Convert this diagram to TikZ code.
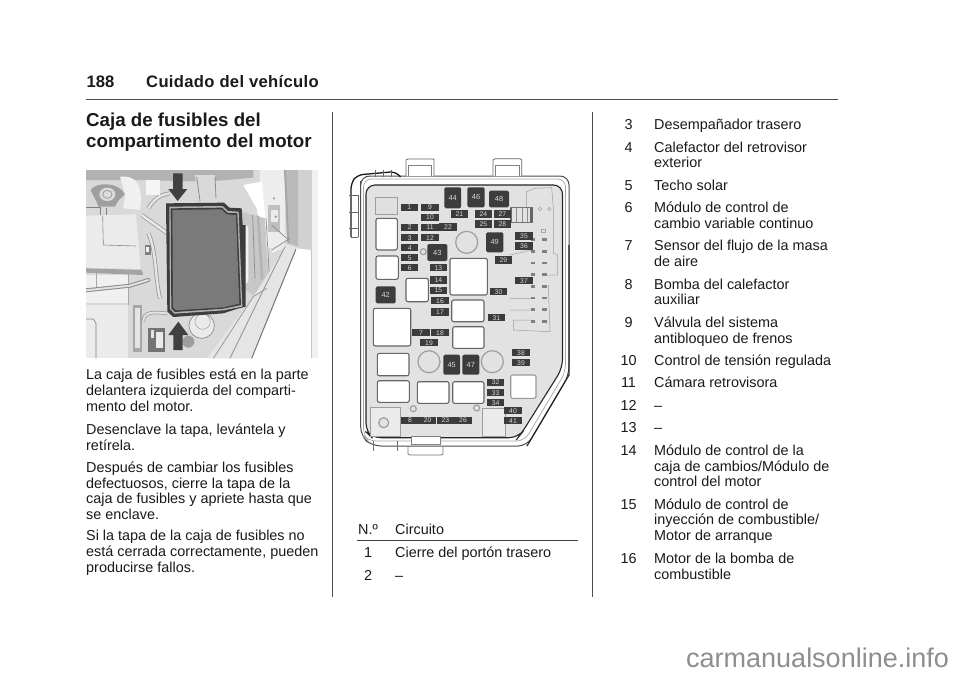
\documentclass[tikz,border=0pt]{standalone}
\usepackage{fontspec}
\setmainfont{Liberation Sans}
\usetikzlibrary{calc}
\definecolor{ink}{HTML}{1A1A1A}
\definecolor{fusedark}{HTML}{3C3C3C}
\definecolor{bodyfill}{HTML}{E2E2E2}
\definecolor{wm}{HTML}{8E8E8E}
\tikzset{
  lbl/.style={anchor=base west,inner sep=0,text=ink,font=\fontsize{14.4}{16}\selectfont},
  numc/.style={anchor=base,inner sep=0,text=ink,font=\fontsize{14.4}{16}\selectfont},
  head/.style={anchor=base west,inner sep=0,text=ink,font=\bfseries\fontsize{16.6}{18}\selectfont},
  ttl/.style={anchor=base west,inner sep=0,text=ink,font=\bfseries\fontsize{18.7}{21}\selectfont},
  fuse/.style={fill=fusedark,draw=none,minimum width=17.5pt,minimum height=7.5pt,inner sep=0,text=white!85!black,font=\fontsize{6.8}{7}\selectfont},
  darkbox/.style={fill=fusedark,draw=none,rounded corners=1.5pt,inner sep=0,text=white!85!black,font=\fontsize{7.4}{8}\selectfont},
  relay/.style={fill=white,draw=black!60,line width=1.1pt,rounded corners=2pt},
  ring/.style={draw=black!38,fill=bodyfill,line width=1.2pt},
  hull/.style={draw=black!70,line width=1pt},
  thinl/.style={draw=black!38,line width=.5pt},
}
\newcounter{lc}
\newcommand{\tl}[3]{\stepcounter{lc}\node[lbl] (t\thelc) at (#1,#2) {#3};}
\newcommand{\nm}[2]{\stepcounter{lc}\node[numc] (t\thelc) at (628.5,#1) {#2};}
\newcommand{\row}[3]{\nm{#1}{#2}\tl{654}{#1}{#3}}
\begin{document}
\begin{tikzpicture}[x=1pt,y=-1pt]
\useasboundingbox (0,0) rectangle (960,678);
\fill[white] (0,0) rectangle (960,678);
% header
\node[head] (pg) at (86.5,87.5) {188};
\node[head,font=\bfseries\fontsize{16.6}{18}\selectfont\addfontfeature{LetterSpace=2}] (pgt) at (146,87.5) {Cuidado del vehículo};
\coordinate (ra) at (86,99); \coordinate (rb) at (838,99);
\draw[black!70,line width=.8pt] (ra) -- (rb);
\node[ttl] (t1a) at (86,126.7) {Caja de fusibles del};
\node[ttl] (t1b) at (86,147.5) {compartimento del motor};
% column rules
\draw[black!70,line width=.9pt] (332.5,112) -- (332.5,597);
\draw[black!70,line width=.9pt] (592.5,112) -- (592.5,597);
% photo
\begin{scope}[shift={(80,165)},x=.33333pt,y=-.33333pt]
\begin{scope}
\clip (18,15) rectangle (715,580);
\fill[black!15] (18,15) rectangle (715,580);
\fill[black!30] (18,15) -- (520,15) -- (520,38) -- (380,50) -- (180,45) -- (18,45) -- cycle;
% right side background
\fill[black!7] (540,15) rectangle (615,250);
\fill[black!27] (615,15) -- (655,15) -- (655,245) -- (625,235) -- cycle;
\fill[black!18] (655,15) rectangle (695,255);
\fill[black!5] (695,15) rectangle (715,580);
\fill[black!35] (612,15) -- (618,15) -- (628,235) -- (622,235) -- cycle;
% bracket parts
\fill[white] (490,60) -- (545,50) -- (565,240) -- (560,300) -- (530,130) -- cycle;
\fill[black!25] (565,120) rectangle (600,200);
\fill[black!8] (572,135) rectangle (595,170);
\fill[black!40] (582,100) circle (4);
\fill[black!40] (587,155) circle (4);
\fill[black!8] (575,200) -- (620,210) -- (610,250) -- (575,265) -- cycle;
\draw[black!45,line width=.7pt] (575,180) -- (620,220) (575,255) -- (630,220);
% radiator stripes between lid and fender
\fill[black!22] (485,140) -- (555,160) -- (565,340) -- (520,390) -- (490,370) -- cycle;
\fill[black!5] (490,180) -- (505,185) -- (505,350) -- (492,360) -- cycle;
\fill[black!30] (530,150) -- (538,155) -- (550,340) -- (543,345) -- cycle;
\draw[black!45,line width=.7pt] (518,150) -- (525,340) (558,160) -- (568,330);
% cap
\fill[black!38] (32,75) .. controls (45,52) and (115,48) .. (135,88) .. controls (120,100) and (115,105) .. (105,125) -- (55,125) .. controls (50,105) and (40,95) .. (32,75) -- cycle;
\fill[black!14] (82,88) ellipse (24 and 20);
\draw[black!45,line width=.6pt] (82,88) ellipse (14 and 12);
\fill[black!6] (120,35) .. controls (170,30) and (190,60) .. (180,135) -- (130,130) -- (135,88) -- cycle;
% battery
\fill[black!8] (18,152) -- (168,148) -- (182,312) -- (18,308) -- cycle;
\draw[black!45,line width=.6pt] (68,152) -- (70,240) -- (168,243);
\draw[black!50,line width=.6pt] (18,128) -- (60,128) -- (60,150) (80,130) -- (80,150);
\fill[black!36] (18,310) -- (185,315) -- (190,330) -- (18,323) -- cycle;
\fill[black!6] (18,330) rectangle (145,415);
\draw[black!35,line width=.5pt] (50,325) -- (50,365) (145,320) -- (145,420);
% hoses
\draw[black!45,line width=4pt,line cap=round] (18,376) -- (150,362) -- (205,345);
\draw[black!12,line width=2pt,line cap=round] (18,376) -- (150,362) -- (205,345);
\draw[black!40,line width=4pt] (185,150) -- (262,205);
\draw[black!8,line width=2.4pt] (185,150) -- (262,205);
\draw[black!40,line width=4pt] (205,205) .. controls (230,260) and (225,340) .. (240,400);
\draw[black!10,line width=2.4pt] (205,205) .. controls (230,260) and (225,340) .. (240,400);
\draw[black!40,line width=4pt] (205,130) .. controls (230,90) and (250,90) .. (268,85);
\draw[black!10,line width=2.4pt] (205,130) .. controls (230,90) and (250,90) .. (268,85);
\fill[black!15] (345,30) -- (405,30) -- (408,100) -- (355,110) -- cycle;
\draw[black!45,line width=.8pt] (350,35) -- (360,108) (405,35) -- (408,100);
\fill[black!4] (198,45) rectangle (240,90);
\fill[black!50] (195,240) rectangle (212,270);
\fill[black!5] (199,246) rectangle (208,262);
% lower left
\fill[black!8] (18,420) -- (145,420) -- (145,580) -- (18,580) -- cycle;
\draw[black!50,line width=.6pt] (18,462) -- (40,462) -- (48,475) -- (48,580);
\draw[black!40,line width=3.5pt] (190,470) .. controls (190,440) and (220,440) .. (260,445);
\draw[black!10,line width=2pt] (190,470) .. controls (190,440) and (220,440) .. (260,445);
\fill[black!35] (160,420) rectangle (185,560);
\fill[black!10] (165,430) rectangle (180,550);
\fill[black!55] (205,488) rectangle (255,560);
\fill[black!10] (212,495) rectangle (222,520);
\fill[black!8] (228,500) rectangle (248,550);
% washer cap
\fill[black!38] (325,530) circle (18);
\fill[black!8] (365,482) circle (38);
\draw[black!45,line width=.7pt] (365,482) circle (38);
\draw[black!35,line width=.6pt] (368,470) circle (23);
% fender
\fill[black!10] (620,240) -- (648,248) -- (515,580) -- (380,580) -- (520,395) -- cycle;
\fill[white] (648,250) -- (515,580) -- (695,580) -- (695,255) -- cycle;
\draw[black!40,line width=.9pt] (615,245) -- (545,385) -- (450,580);
\draw[black!55,line width=1pt] (648,252) -- (515,580);
\draw[black!40,line width=.8pt] (400,580) -- (520,395) -- (560,370);
\fill[black!22] (693,255) rectangle (697,580);
% lid
\fill[black!76] (258,115) -- (432,113) -- (448,128) -- (485,130) -- (488,180) -- (497,180) -- (497,425) -- (470,432) -- (430,445) -- (280,456) -- (262,440) -- cycle;
\fill[black!30] (268,125) -- (428,123) -- (444,138) -- (476,140) -- (487,425) -- (430,436) -- (283,446) -- (270,432) -- cycle;
\fill[black!76] (272,130) -- (426,128) -- (442,143) -- (472,145) -- (483,420) -- (430,431) -- (285,441) -- (274,430) -- cycle;
\fill[black!52] (277,135) -- (424,133) -- (440,148) -- (468,150) -- (478,416) -- (430,427) -- (288,436) -- (279,427) -- cycle;
% arrows
\fill[black!75] (279,25) -- (308,25) -- (308,72) -- (322,72) -- (293,108) -- (265,72) -- (279,72) -- cycle;
\fill[black!75] (280,555) -- (308,555) -- (308,510) -- (325,510) -- (295,470) -- (265,510) -- (280,510) -- cycle;
\end{scope}
\end{scope}
% fuse box hull
\draw[hull,rounded corners=9pt,fill=white] (360.7,190) -- (360.7,176) -- (569,176) -- (569,375) -- (527,446) -- (372,446) -- (360.7,436) -- cycle;
\draw[black!35,line width=.7pt,rounded corners=8pt] (363.5,179) -- (565.5,179) -- (565.5,372) -- (524.5,441) -- (368,441) -- (363.5,436) -- cycle;
\draw[black!85,line width=1.2pt] (569,245) -- (569,375) -- (527,446);
\fill[bodyfill,draw=black!85,line width=1.1pt,rounded corners=9pt] (366,185) -- (562.5,185) -- (562.5,368) -- (521.7,433) -- (518,437.7) -- (372,437.7) -- (366,432) -- cycle;
% tabs
\draw[black!60,line width=.8pt,fill=white] (406,176) -- (406,160) -- (408,159) -- (433,159) -- (434,160) -- (434,176);
\draw[black!50,line width=.6pt] (408,176) -- (408,165) -- (431,165) -- (431,176);
\draw[black!60,line width=.8pt,fill=white] (493,176) -- (493,160) -- (495,158.7) -- (520,158.7) -- (521.7,160) -- (521.7,176);
\draw[black!50,line width=.6pt] (495,176) -- (495,165) -- (519,165) -- (519,176);
% left wire clip
\draw[black!90,line width=1.3pt,rounded corners=6pt] (351,237) -- (351,183) -- (357,175) -- (396,171.5) -- (400.5,177);
\draw[black!60,line width=.8pt] (349,195) -- (358,195) (349,212) -- (358,212) (349,228) -- (358,228);
\draw[black!60,line width=.7pt] (358,237) -- (358,195) (351,237) -- (358,237);
\draw[black!60,line width=.7pt] (375,170) -- (375,177) (383,170) -- (383,177) (391,170) -- (391,177);
% bottom latch
\draw[black!55,line width=.8pt,fill=white] (408,447) -- (408,454) -- (410,455) -- (441,455) -- (443,454) -- (443,447);
\fill[white,draw=black!50,line width=.8pt] (411,436) rectangle (440,444);
\draw[black!55,line width=.7pt] (373,441) -- (373,451) (397,441) -- (397,451);
% inner detail
\draw[thinl,fill=black!12] (375,197) -- (397,197) -- (397,214) -- (375,214) -- cycle;
\begin{scope}[shift={(500,175)},x=.33333pt,y=-.33333pt]
\draw[thinl] (80,95) -- (80,50) -- (105,40) -- (155,38) -- (160,100) -- (160,235) -- (172,240) -- (172,300) -- (135,300);
\draw[thinl] (145,330) -- (150,470) -- (40,465) -- (40,435) -- (95,435);
\draw[thinl] (30,240) -- (95,225) (30,370) -- (95,370) (30,405) -- (95,405);
\foreach \yy in {195,230,265,300,335,370,405,440} {
  \fill[black!50] (125,\yy-5) rectangle (140,\yy+3);
  \fill[black!50] (93,\yy-5) rectangle (105,\yy+3);
}
\draw[black!35,line width=.5pt] (125,162) rectangle (135,172);
\draw[black!35,line width=.5pt] (120,102) circle (5) (148,102) circle (5);
\fill[black!60] (30,100) rectangle (36,140);
\fill[black!60] (90,100) rectangle (100,140);
\fill[black!45] (48,100) rectangle (52,140);
\fill[black!45] (65,100) rectangle (69,140);
\fill[black!45] (80,100) rectangle (84,140);
\draw[black!55,line width=.5pt] (30,96) -- (100,96) (30,142) -- (100,142);
\end{scope}
\draw[thinl,fill=black!8] (370,407) rectangle (400,436);
\draw[thinl,fill=black!8] (482,408) rectangle (505,436);
% relays
\draw[relay] (376,218.3) rectangle (397.3,250);
\draw[relay] (376,256) rectangle (398.3,279.3);
\draw[relay] (406,278.3) rectangle (428.3,301.7);
\draw[relay] (450,258.3) rectangle (487.3,295);
\draw[relay] (451.7,300) rectangle (484,321.7);
\draw[relay] (373.3,308.3) rectangle (410.7,346);
\draw[relay] (452.7,326.7) rectangle (484,348.3);
\draw[relay] (377.3,353.3) rectangle (409,375.7);
\draw[relay] (377.3,380.7) rectangle (409.3,402.3);
\draw[relay] (417.3,381.7) rectangle (449,403.3);
\draw[relay] (452.7,381.7) rectangle (484,403.3);
\draw[relay,draw=black!40] (510.7,375) rectangle (536,398.3);
% rings
\draw[ring] (466.7,242.3) circle (11);
\draw[ring] (429,361.7) circle (11);
\draw[ring] (492.3,361.7) circle (11);
\draw[ring] (383.7,422.7) circle (5);
\draw[ring] (423.3,251.7) circle (3);
\draw[ring] (413.3,408.7) circle (3);
\draw[ring] (476.7,408) circle (3);
% dark boxes
\node[darkbox,minimum width=16.7pt,minimum height=21pt] (d44) at (452.7,197.8) {44};
\node[darkbox,minimum width=17.4pt,minimum height=20pt] (d46) at (476,197.3) {46};
\node[darkbox,minimum width=20pt,minimum height=16.6pt] (d48) at (499,199) {48};
\node[darkbox,minimum width=17.3pt,minimum height=20pt] (d49) at (494.7,242.3) {49};
\node[darkbox,minimum width=20pt,minimum height=17pt] (d43) at (437.3,252.5) {43};
\node[darkbox,minimum width=20pt,minimum height=17pt] (d42) at (385.7,294.8) {42};
\node[darkbox,minimum width=16.7pt,minimum height=20pt] (d45) at (451.7,364.7) {45};
\node[darkbox,minimum width=17pt,minimum height=20pt] (d47) at (470.8,364.7) {47};
% fuses
\foreach \n/\x/\y in {1/409.3/207.3,9/430/207.3,10/430/217.3,21/459.3/214,24/483.3/214,27/502.3/214,25/483.3/224,28/502.3/224,22/448/227,2/409.7/227.3,11/430/227.3,3/409.7/237.7,12/430/237.7,4/409.7/247.7,5/409.7/257.7,6/409.7/267.7,13/438.3/267.7,14/438.3/280,15/438.3/290.3,16/440/300.7,17/440/312,35/524/236,36/524/246,29/503.3/260,37/524/280.7,30/498.7/291.7,31/496.3/317.7,7/421/332.7,18/440/332.7,19/429/342.7,38/521/352.7,39/521/362.7,32/495.7/382.3,33/495.7/392.7,34/495.7/402.7,40/513/410.7,41/513/420.7,8/410/420.3,20/427.7/420.3,23/445.3/420.3,26/463/420.3}
  \node[fuse] (f\n) at (\x,\y) {\n};
% left column
\tl{86}{379}{La caja de fusibles está en la parte}
\tl{86}{395}{delantera izquierda del comparti-}
\tl{86}{411}{mento del motor.}
\tl{86}{434}{Desenclave la tapa, levántela y}
\tl{86}{450}{retírela.}
\tl{86}{472}{Después de cambiar los fusibles}
\tl{86}{488}{defectuosos, cierre la tapa de la}
\tl{86}{503.5}{caja de fusibles y apriete hasta que}
\tl{86}{519}{se enclave.}
\tl{86}{540}{Si la tapa de la caja de fusibles no}
\tl{86}{556}{está cerrada correctamente, pueden}
\tl{86}{572}{producirse fallos.}
% middle table
\tl{358}{534}{N.º}
\tl{395}{534}{Circuito}
\coordinate (ta) at (357,540.7); \coordinate (tb) at (578,540.7);
\draw[black!75,line width=.9pt] (ta) -- (tb);
\node[numc] (n1) at (368,557.5) {1};
\tl{395}{557.5}{Cierre del portón trasero}
\node[numc] (n2) at (368,580) {2};
\tl{395}{580}{–}
% right column
\row{129}{3}{Desempañador trasero}
\row{152}{4}{Calefactor del retrovisor}
\tl{654}{167}{exterior}
\row{190}{5}{Techo solar}
\row{212}{6}{Módulo de control de}
\tl{654}{228}{cambio variable continuo}
\row{250}{7}{Sensor del flujo de la masa}
\tl{654}{266}{de aire}
\row{289}{8}{Bomba del calefactor}
\tl{654}{304}{auxiliar}
\row{327}{9}{Válvula del sistema}
\tl{654}{343}{antibloqueo de frenos}
\row{365}{10}{Control de tensión regulada}
\row{387}{11}{Cámara retrovisora}
\row{410}{12}{–}
\row{432}{13}{–}
\row{455}{14}{Módulo de control de la}
\tl{654}{471}{caja de cambios/Módulo de}
\tl{654}{486}{control del motor}
\row{509}{15}{Módulo de control de}
\tl{654}{524}{inyección de combustible/}
\tl{654}{540}{Motor de arranque}
\row{563}{16}{Motor de la bomba de}
\tl{654}{579}{combustible}
% watermark
\node[anchor=base west,inner sep=0,text=wm,font=\fontsize{27}{29}\selectfont] (wmk) at (686,667.3) {carmanualsonline.info};
\end{tikzpicture}
\end{document}
